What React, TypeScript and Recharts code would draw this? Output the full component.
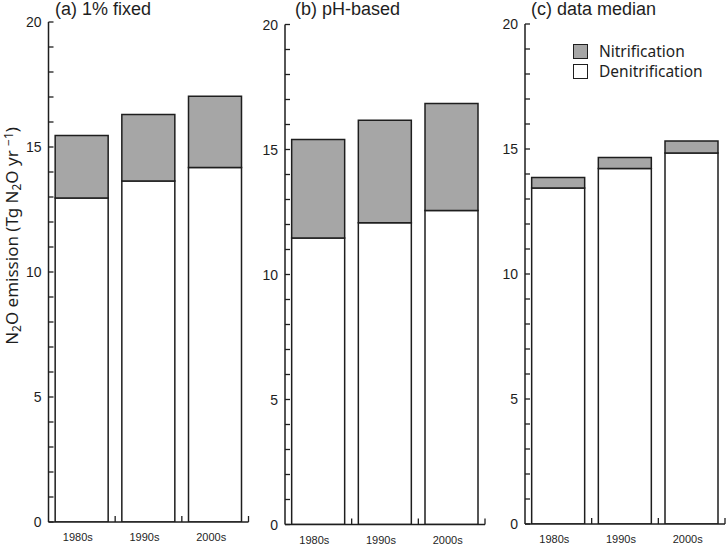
import React from 'react';
import { BarChart, Bar, XAxis, YAxis } from 'recharts';

// decades on the x axis
const decades = ['1980s', '1990s', '2000s'];

// (a) 1% fixed
const denitFixed = [12.96, 13.64, 14.18];
const nitFixed = [2.5, 2.66, 2.85];

// (b) pH-based
const denitPh = [11.46, 12.07, 12.56];
const nitPh = [3.94, 4.1, 4.28];

// (c) data median
const denitMedian = [13.44, 14.22, 14.84];
const nitMedian = [0.42, 0.44, 0.48];

const yTicks = [0, 1, 2, 3, 4, 5, 6, 7, 8, 9, 10, 11, 12, 13, 14, 15, 16, 17, 18, 19, 20];
const titles = ['(a) 1% fixed', '(b) pH-based', '(c) data median'];
const legendNames = ['Nitrification', 'Denitrification'];

const INK = '#1e1e1e';
const GREY = '#a6a6a6';
const SANS = '"Liberation Sans", Arial, Helvetica, sans-serif';

const YTick = (props: any) => {
    const { x, y, payload } = props;
    const major = payload.value % 5 === 0;
    return (
        <g>
            <line x1={x} x2={x + 5} y1={y} y2={y} stroke={INK} strokeWidth={1.3} />
            {major && (
                <text x={x - 7} y={y} dy="0.36em" textAnchor="end" fontSize={14} fill={INK} fontFamily={SANS}>
                    {payload.value}
                </text>
            )}
        </g>
    );
};

const XTick = (props: any) => {
    const { x, y, payload } = props;
    const half = payload.offset ?? 100 / 3;
    return (
        <g>
            <line x1={x + half} x2={x + half} y1={y} y2={y - 6} stroke={INK} strokeWidth={1.3} />
            <text x={x - 4} y={y + 19} textAnchor="middle" fontSize={11} fill={INK} fontFamily={SANS}>
                {payload.value}
            </text>
        </g>
    );
};

const LegendBox = () => {
    const fills = [GREY, '#fff'];
    return (
        <div
            style={{
                position: 'absolute',
                left: 573,
                top: 41,
                fontFamily: '"Noto Sans", sans-serif',
                fontSize: 15.5,
                color: INK,
                lineHeight: '17px',
            }}
        >
            {legendNames.map((name, i) => (
                <div key={name} style={{ display: 'flex', alignItems: 'center', height: 20, whiteSpace: 'nowrap' }}>
                    <span
                        style={{
                            display: 'inline-block',
                            width: 13,
                            height: 13,
                            background: fills[i],
                            border: `1.3px solid ${INK}`,
                            marginRight: 11,
                        }}
                    />
                    {name}
                </div>
            ))}
        </div>
    );
};

// chart placement: left edge, width, y-axis width, top margin, x-axis height
const panels = [
    { left: 0, width: 260, axisW: 48.5, top: 22, xH: 23, denit: denitFixed, nit: nitFixed },
    { left: 240, width: 250, axisW: 45, top: 24.5, xH: 20.5, denit: denitPh, nit: nitPh },
    { left: 478, width: 250, axisW: 47, top: 24, xH: 21, denit: denitMedian, nit: nitMedian },
];

const Panel = ({ idx }: { idx: number }) => {
    const p = panels[idx];
    const data = decades.map((d, i) => ({ decade: d, denit: p.denit[i], nit: p.nit[i] }));
    const right = p.width - p.axisW - 200;
    return (
        <div style={{ position: 'absolute', left: p.left, top: 0 }}>
            <BarChart
                width={p.width}
                height={545}
                data={data}
                margin={{ top: p.top, right, bottom: 0, left: 0 }}
                barCategoryGap="10%"
            >
                <XAxis
                    dataKey="decade"
                    height={p.xH}
                    tickSize={0}
                    tickMargin={0}
                    tick={<XTick />}
                    axisLine={{ stroke: INK, strokeWidth: 1.5 }}
                    tickLine={false}
                    interval={0}
                />
                <YAxis
                    width={p.axisW}
                    domain={[0, 20]}
                    ticks={yTicks}
                    interval={0}
                    tickSize={0}
                    tickMargin={0}
                    tick={<YTick />}
                    axisLine={{ stroke: INK, strokeWidth: 1.5 }}
                    tickLine={false}
                    allowDataOverflow
                />
                <Bar dataKey="denit" stackId="s" fill="#fff" stroke={INK} strokeWidth={1.5} isAnimationActive={false} />
                <Bar dataKey="nit" stackId="s" fill={GREY} stroke={INK} strokeWidth={1.5} isAnimationActive={false} />
            </BarChart>
        </div>
    );
};

const titleLeft = [55, 295, 531];

export default function App() {
    return (
        <div style={{ position: 'absolute', left: 0, top: 0, width: 728, height: 545, background: '#fff' }}>
            {[0, 1, 2].map(i => (
                <Panel key={i} idx={i} />
            ))}
            {titles.map((t, i) => (
                <div
                    key={t}
                    style={{
                        position: 'absolute',
                        left: titleLeft[i],
                        top: 0,
                        fontFamily: SANS,
                        fontSize: 18,
                        lineHeight: '18px',
                        color: INK,
                        whiteSpace: 'nowrap',
                    }}
                >
                    {t}
                </div>
            ))}
            <LegendBox />
            <div
                style={{
                    position: 'absolute',
                    left: 12,
                    top: 236,
                    transform: 'translate(-50%, -50%) rotate(-90deg)',
                    fontFamily: '"Noto Sans", sans-serif',
                    fontSize: 17,
                    color: INK,
                    whiteSpace: 'nowrap',
                    lineHeight: '20px',
                }}
            >
                N<sub style={{ fontSize: '0.7em', verticalAlign: '-0.25em' }}>2</sub>O emission (Tg N
                <sub style={{ fontSize: '0.7em', verticalAlign: '-0.25em' }}>2</sub>O yr{' '}
                <sup style={{ fontSize: '0.7em', verticalAlign: '0.5em' }}>−1</sup>)
            </div>
        </div>
    );
}
